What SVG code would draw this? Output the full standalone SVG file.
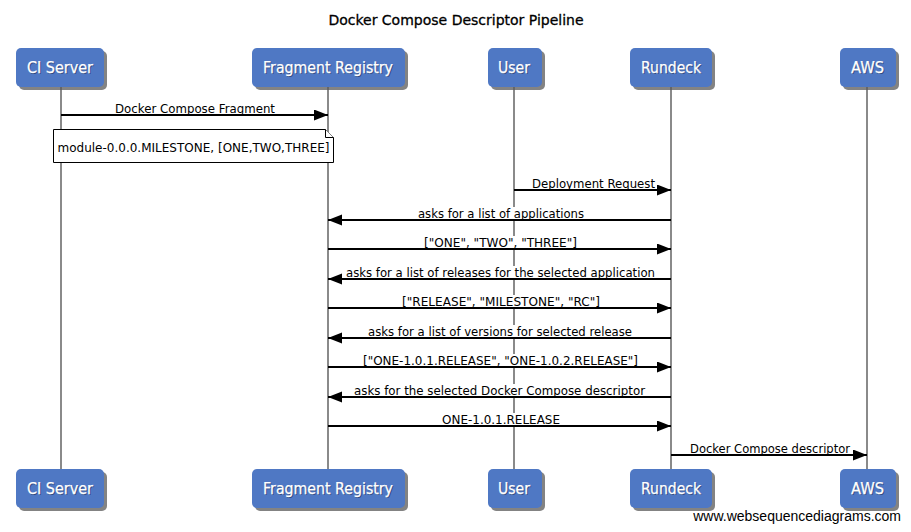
<svg xmlns="http://www.w3.org/2000/svg" width="911" height="532" viewBox="0 0 911 532">
<style>
.title{font-family:"DejaVu Sans",Verdana,sans-serif;font-size:14px;fill:#000;text-anchor:middle;stroke:#000;stroke-width:0.3}
.box{fill:#4f78c4}
.shadow{fill:#5a5a5a;opacity:0.75}
.pname{font-family:"DejaVu Sans",Verdana,sans-serif;font-size:15px;fill:#fff;text-anchor:middle;stroke:#fff;stroke-width:0.25}
.pshadow{font-family:"DejaVu Sans",Verdana,sans-serif;font-size:15px;fill:#1c2c55;text-anchor:middle;opacity:0.6}
.life{stroke:#8a8a8a;stroke-width:2;fill:none}
.msg{stroke:#000;stroke-width:2;fill:none}
.lbl{font-family:"DejaVu Sans",Verdana,sans-serif;font-size:11.5px;fill:#000;text-anchor:middle}
.bg{fill:#fff}
.note{fill:#fff;stroke:#000;stroke-width:1}
.wm{font-family:"Liberation Sans",Arial,sans-serif;font-size:14px;fill:#000;text-anchor:end}
</style>
<defs>
<marker id="ah" markerUnits="userSpaceOnUse" markerWidth="15" markerHeight="12" refX="14" refY="5.5" orient="auto">
<path d="M0,0 L14,5.5 L0,11 Z" fill="#000"/>
</marker>
</defs>
<text class="title" x="456" y="25">Docker Compose Descriptor Pipeline</text>

<g id="lifelines">
<line class="life" x1="61" y1="87" x2="61" y2="469"/>
<line class="life" x1="328" y1="87" x2="328" y2="469"/>
<line class="life" x1="514" y1="87" x2="514" y2="469"/>
<line class="life" x1="671" y1="87" x2="671" y2="469"/>
<line class="life" x1="867" y1="87" x2="867" y2="469"/>
</g>

<g id="p-ci-top"><rect class="shadow" x="19" y="51" width="88" height="39" rx="5"/><rect class="box" x="16" y="48" width="88" height="39" rx="5"/><text class="pshadow" x="61" y="74" textLength="66" lengthAdjust="spacingAndGlyphs">CI Server</text><text class="pname" x="60" y="73" textLength="66" lengthAdjust="spacingAndGlyphs">CI Server</text></g>
<g id="p-frag-top"><rect class="shadow" x="255" y="51" width="153" height="39" rx="5"/><rect class="box" x="252" y="48" width="153" height="39" rx="5"/><text class="pshadow" x="329" y="74" textLength="130" lengthAdjust="spacingAndGlyphs">Fragment Registry</text><text class="pname" x="328" y="73" textLength="130" lengthAdjust="spacingAndGlyphs">Fragment Registry</text></g>
<g id="p-user-top"><rect class="shadow" x="491" y="51" width="54" height="39" rx="5"/><rect class="box" x="488" y="48" width="54" height="39" rx="5"/><text class="pshadow" x="515" y="74" textLength="32" lengthAdjust="spacingAndGlyphs">User</text><text class="pname" x="514" y="73" textLength="32" lengthAdjust="spacingAndGlyphs">User</text></g>
<g id="p-rundeck-top"><rect class="shadow" x="633" y="51" width="82" height="39" rx="5"/><rect class="box" x="630" y="48" width="82" height="39" rx="5"/><text class="pshadow" x="672" y="74" textLength="60" lengthAdjust="spacingAndGlyphs">Rundeck</text><text class="pname" x="671" y="73" textLength="60" lengthAdjust="spacingAndGlyphs">Rundeck</text></g>
<g id="p-aws-top"><rect class="shadow" x="843" y="51" width="56" height="39" rx="5"/><rect class="box" x="840" y="48" width="56" height="39" rx="5"/><text class="pshadow" x="868.5" y="74" textLength="33" lengthAdjust="spacingAndGlyphs">AWS</text><text class="pname" x="867.5" y="73" textLength="33" lengthAdjust="spacingAndGlyphs">AWS</text></g>

<g id="p-ci-bottom"><rect class="shadow" x="19" y="472" width="88" height="39" rx="5"/><rect class="box" x="16" y="469" width="88" height="39" rx="5"/><text class="pshadow" x="61" y="495" textLength="66" lengthAdjust="spacingAndGlyphs">CI Server</text><text class="pname" x="60" y="494" textLength="66" lengthAdjust="spacingAndGlyphs">CI Server</text></g>
<g id="p-frag-bottom"><rect class="shadow" x="255" y="472" width="153" height="39" rx="5"/><rect class="box" x="252" y="469" width="153" height="39" rx="5"/><text class="pshadow" x="329" y="495" textLength="130" lengthAdjust="spacingAndGlyphs">Fragment Registry</text><text class="pname" x="328" y="494" textLength="130" lengthAdjust="spacingAndGlyphs">Fragment Registry</text></g>
<g id="p-user-bottom"><rect class="shadow" x="491" y="472" width="54" height="39" rx="5"/><rect class="box" x="488" y="469" width="54" height="39" rx="5"/><text class="pshadow" x="515" y="495" textLength="32" lengthAdjust="spacingAndGlyphs">User</text><text class="pname" x="514" y="494" textLength="32" lengthAdjust="spacingAndGlyphs">User</text></g>
<g id="p-rundeck-bottom"><rect class="shadow" x="633" y="472" width="82" height="39" rx="5"/><rect class="box" x="630" y="469" width="82" height="39" rx="5"/><text class="pshadow" x="672" y="495" textLength="60" lengthAdjust="spacingAndGlyphs">Rundeck</text><text class="pname" x="671" y="494" textLength="60" lengthAdjust="spacingAndGlyphs">Rundeck</text></g>
<g id="p-aws-bottom"><rect class="shadow" x="843" y="472" width="56" height="39" rx="5"/><rect class="box" x="840" y="469" width="56" height="39" rx="5"/><text class="pshadow" x="868.5" y="495" textLength="33" lengthAdjust="spacingAndGlyphs">AWS</text><text class="pname" x="867.5" y="494" textLength="33" lengthAdjust="spacingAndGlyphs">AWS</text></g>

<g id="connectors">
<line class="msg" x1="61" y1="115" x2="328" y2="115" marker-end="url(#ah)"/>
<text class="lbl" x="195" y="112.5" textLength="160" lengthAdjust="spacingAndGlyphs">Docker Compose Fragment</text>

<line class="msg" x1="514" y1="190" x2="671" y2="190" marker-end="url(#ah)"/>
<text class="lbl" x="593.5" y="187.5" textLength="123" lengthAdjust="spacingAndGlyphs">Deployment Request</text>

<line class="msg" x1="671" y1="220" x2="328" y2="220" marker-end="url(#ah)"/>
<rect class="bg" x="418" y="207" width="166" height="12"/>
<text class="lbl" x="501" y="217.5" textLength="166" lengthAdjust="spacingAndGlyphs">asks for a list of applications</text>

<line class="msg" x1="328" y1="249" x2="671" y2="249" marker-end="url(#ah)"/>
<rect class="bg" x="424" y="236" width="153" height="12"/>
<text class="lbl" x="500.5" y="246.5" textLength="153" lengthAdjust="spacingAndGlyphs">["ONE", "TWO", "THREE"]</text>

<line class="msg" x1="671" y1="279" x2="328" y2="279" marker-end="url(#ah)"/>
<rect class="bg" x="346" y="266" width="309" height="12"/>
<text class="lbl" x="500.5" y="276.5" textLength="309" lengthAdjust="spacingAndGlyphs">asks for a list of releases for the selected application</text>

<line class="msg" x1="328" y1="308" x2="671" y2="308" marker-end="url(#ah)"/>
<rect class="bg" x="402" y="295" width="198" height="12"/>
<text class="lbl" x="501" y="305.5" textLength="198" lengthAdjust="spacingAndGlyphs">["RELEASE", "MILESTONE", "RC"]</text>

<line class="msg" x1="671" y1="338" x2="328" y2="338" marker-end="url(#ah)"/>
<rect class="bg" x="368" y="325" width="264" height="12"/>
<text class="lbl" x="500" y="335.5" textLength="264" lengthAdjust="spacingAndGlyphs">asks for a list of versions for selected release</text>

<line class="msg" x1="328" y1="367" x2="671" y2="367" marker-end="url(#ah)"/>
<rect class="bg" x="363" y="354" width="275" height="12"/>
<text class="lbl" x="500.5" y="364.5" textLength="275" lengthAdjust="spacingAndGlyphs">["ONE-1.0.1.RELEASE", "ONE-1.0.2.RELEASE"]</text>

<line class="msg" x1="671" y1="397" x2="328" y2="397" marker-end="url(#ah)"/>
<rect class="bg" x="354" y="384" width="291" height="12"/>
<text class="lbl" x="499.5" y="394.5" textLength="291" lengthAdjust="spacingAndGlyphs">asks for the selected Docker Compose descriptor</text>

<line class="msg" x1="328" y1="426" x2="671" y2="426" marker-end="url(#ah)"/>
<rect class="bg" x="442" y="413" width="118" height="12"/>
<text class="lbl" x="501" y="423.5" textLength="118" lengthAdjust="spacingAndGlyphs">ONE-1.0.1.RELEASE</text>

<line class="msg" x1="671" y1="455" x2="867" y2="455" marker-end="url(#ah)"/>
<text class="lbl" x="770" y="452.5" textLength="160" lengthAdjust="spacingAndGlyphs">Docker Compose descriptor</text>
</g>

<g id="note">
<path class="note" d="M53.5,129.5 H325.5 L333.5,137.5 V162.5 H53.5 Z"/>
<path class="note" d="M325.5,129.5 V137.5 H333.5" fill="none"/>
<text class="lbl" x="193.5" y="152" textLength="272" lengthAdjust="spacingAndGlyphs">module-0.0.0.MILESTONE, [ONE,TWO,THREE]</text>
</g>

<text class="wm" x="901" y="521">www.websequencediagrams.com</text>
</svg>
